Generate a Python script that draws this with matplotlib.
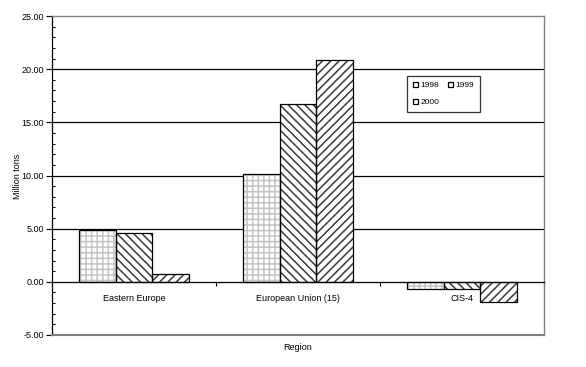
import matplotlib
matplotlib.use("Agg")
import matplotlib.pyplot as plt
import numpy as np
from matplotlib.ticker import MultipleLocator, FixedLocator, FuncFormatter

plt.rcParams['font.family'] = ['Liberation Sans', 'DejaVu Sans']
plt.rcParams['hatch.linewidth'] = 1.1

categories = ["Eastern Europe", "European Union (15)", "CIS-4"]
series = ["1998", "1999", "2000"]
v1998 = [4.9, 10.1, -0.65]
v1999 = [4.6, 16.75, -0.65]
v2000 = [0.75, 20.9, -1.9]

fig = plt.figure(figsize=(5.86, 3.67), dpi=100)
ax = fig.add_axes([52/586, 1-335/367, (544-52)/586, (335-16)/367])

x = np.arange(len(categories))
w = 0.222
styles = [dict(hatch='+++', hc='#c4c4c4'),
          dict(hatch='\\\\\\\\', hc='#3a3a3a'),
          dict(hatch='////', hc='#3a3a3a')]
handles = []
for i, (vals, st) in enumerate(zip([v1998, v1999, v2000], styles)):
    pos = x + (i - 1) * w
    ax.bar(pos, vals, w, facecolor='white', edgecolor=st['hc'], hatch=st['hatch'], linewidth=0, zorder=3)
    b = ax.bar(pos, vals, w, facecolor='none', edgecolor='black', linewidth=0.9, zorder=4)
    handles.append(b)

ax.set_xlim(-0.5, 2.5)
ax.set_ylim(-5, 25)
ax.yaxis.set_major_locator(MultipleLocator(5))
ax.yaxis.set_minor_locator(MultipleLocator(1))
ax.yaxis.set_major_formatter(FuncFormatter(lambda v, p: f"{v:.2f}"))
ax.tick_params(axis='y', which='major', length=4, width=0.8, labelsize=6.5, pad=2)
ax.tick_params(axis='y', which='minor', length=2, width=0.8, direction='in')

for yv in [5, 10, 15, 20]:
    ax.axhline(yv, color='black', lw=0.9, zorder=1)

ax.spines['bottom'].set_position(('data', 0))
ax.spines['bottom'].set_linewidth(0.9)
ax.spines['bottom'].set_zorder(5)
ax.spines['left'].set_linewidth(0.9)
for s in ['top', 'right']:
    ax.spines[s].set_color('#808080')
    ax.spines[s].set_linewidth(1.0)
ax.axhline(-5, color='#808080', lw=1.5, zorder=6, clip_on=False)

ax.xaxis.set_major_locator(FixedLocator(x))
ax.set_xticklabels(categories)
ax.xaxis.set_minor_locator(FixedLocator([-0.5, 0.5, 1.5, 2.5]))
ax.tick_params(axis='x', which='major', length=0, labelsize=6.5, pad=9)
ax.tick_params(axis='x', which='minor', length=3, width=0.8)

fig.text(18/586, 1-176/367, "Million tons", fontsize=6.5, rotation=90, ha='center', va='center')
fig.text(298/586, 1-348/367, "Region", fontsize=6.5, ha='center', va='center')

order = [0, 2, 1]
leg = ax.legend([handles[k] for k in order], [series[k] for k in order],
                loc='upper left', bbox_to_anchor=((407-52)/492, 1-(76-16)/319),
                ncol=2, fontsize=6, frameon=True, fancybox=False, edgecolor='black',
                handlelength=0.6, handleheight=0.6, columnspacing=1.0, handletextpad=0.3,
                borderpad=0.7, labelspacing=1.1, borderaxespad=0)
leg.get_frame().set_linewidth(0.9)

fig.savefig("out.png", dpi=100, facecolor='white')
